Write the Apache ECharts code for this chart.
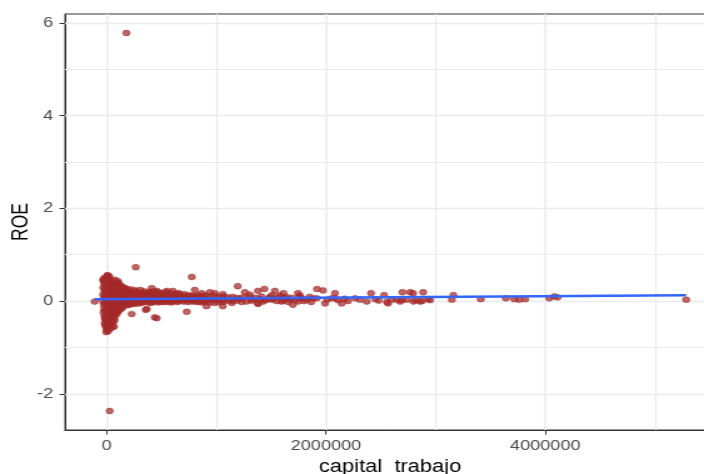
<!DOCTYPE html>
<html>
<head>
<meta charset="utf-8">
<script src="https://cdn.jsdelivr.net/npm/echarts@6/dist/echarts.min.js"></script>
<style>
  html, body { margin: 0; padding: 0; background: #ffffff; overflow: hidden; }
  /* the plot is drawn narrower and widened horizontally, like the exported figure */
  #chart { width: 563px; height: 474px; transform: scaleX(1.2504); transform-origin: 0 0; }
</style>
</head>
<body>
<div id="chart"></div>
<script>
// ROE frente a capital de trabajo, por empresa: [capital_trabajo, ROE]
const nucleoCero = [
  [-110000, -0.01],
  [-22000, 0.50], [6000, 0.56], [24000, 0.53], [9000, 0.55], [-34000, 0.46],
  [-27000, 0.43], [-2000, 0.49], [31000, 0.46],
  [-24000, 0.37], [9000, 0.41], [36000, 0.39],
  [-31000, 0.29], [-6000, 0.33], [21000, 0.31],
  [-21000, 0.22], [3000, 0.24], [29000, 0.23],
  [-33000, 0.14], [-9000, 0.16], [16000, 0.15], [39000, 0.13],
  [-24000, 0.07], [1000, 0.08], [27000, 0.06],
  [-34000, -0.01], [-7000, 0.01], [19000, 0.00], [44000, -0.01],
  [-27000, -0.08], [2000, -0.07], [31000, -0.09],
  [-23000, -0.16], [7000, -0.15], [33000, -0.17],
  [-29000, -0.24], [-3000, -0.23], [23000, -0.25],
  [-21000, -0.32], [9000, -0.31], [34000, -0.33],
  [-17000, -0.40], [1000, -0.39], [27000, -0.41],
  [-19000, -0.48], [11000, -0.47], [36000, -0.49],
  [-9000, -0.55], [6000, -0.57], [19000, -0.53],
  [-1000, -0.62], [29000, -0.60], [-4000, -0.67], [13000, -0.65],
  [-14000, 0.45], [-15000, 0.27], [-13000, 0.10], [-14000, -0.04], [-12000, -0.20], [-15000, -0.36], [-13000, -0.51],
  [17000, 0.43], [16000, 0.27], [18000, 0.11], [17000, -0.05], [15000, -0.21], [18000, -0.37], [16000, -0.46],
  [44000, 0.35], [46000, 0.20], [43000, 0.05], [45000, -0.13], [44000, -0.29], [46000, -0.44],
  [55000, -0.56], [67000, -0.55], [73000, -0.41],
  [58000, 0.42], [62000, 0.34], [57000, 0.26], [63000, 0.18], [59000, 0.10], [61000, 0.02],
  [56000, -0.06], [64000, -0.14], [58000, -0.22], [62000, -0.30], [57000, -0.38], [60000, -0.45],
  [74000, 0.46], [76000, 0.38], [73000, 0.30], [75000, 0.22], [74000, 0.14], [76000, 0.06],
  [73000, -0.02], [75000, -0.10], [74000, -0.18], [76000, -0.26], [73000, -0.34],
  [88000, 0.40], [92000, 0.32], [87000, 0.24], [93000, 0.16], [89000, 0.08], [91000, 0.00],
  [86000, -0.08], [94000, -0.16], [88000, -0.24], [92000, -0.28],
  [103000, 0.43],
  [105000, 0.39], [106000, 0.31], [104000, 0.23], [107000, 0.15], [105000, 0.07], [104000, -0.01],
  [106000, -0.09], [105000, -0.17], [107000, -0.22],
  [118000, 0.35], [122000, 0.27], [117000, 0.19], [123000, 0.11], [119000, 0.03],
  [121000, -0.05], [116000, -0.12], [124000, -0.18],
  [134000, 0.32], [136000, 0.24], [133000, 0.16], [135000, 0.08], [134000, 0.00], [136000, -0.07], [133000, -0.15],
  [148000, 0.30], [152000, 0.22], [147000, 0.14], [153000, 0.06], [149000, -0.02],
  [151000, -0.09], [146000, -0.14],
  [167000, 0.28], [169000, 0.21], [166000, 0.13], [170000, 0.05], [168000, -0.03], [167000, -0.08]
];

const tramoBajo = [
  [185000, 0.26], [191000, 0.18], [182000, 0.11], [188000, 0.03], [184000, -0.04], [190000, -0.09],
  [206000, 0.22], [208000, 0.14], [205000, 0.06], [207000, -0.02], [206000, -0.07],
  [226000, 0.25], [231000, 0.16], [221000, 0.09], [228000, 0.02], [223000, -0.07],
  [245000, 0.20], [247000, 0.12], [244000, 0.04], [246000, -0.04],
  [264000, 0.23], [270000, 0.15], [259000, 0.08], [267000, 0.01], [262000, -0.06],
  [285000, 0.19], [287000, 0.11], [284000, 0.03], [286000, -0.04],
  [306000, 0.24], [309000, 0.14], [300000, 0.07], [307000, -0.01], [302000, -0.05],
  [325000, 0.18], [327000, 0.10], [324000, 0.02], [326000, -0.03],
  [344000, 0.21], [349000, 0.13], [341000, 0.06], [347000, -0.02],
  [365000, 0.17], [367000, 0.09], [364000, 0.01],
  [386000, 0.20], [390000, 0.12], [381000, 0.05], [384000, -0.03],
  [405000, 0.17], [407000, 0.09], [404000, 0.01], [406000, -0.04],
  [424000, 0.21], [431000, 0.12], [420000, 0.04], [427000, -0.02],
  [445000, 0.16], [447000, 0.08], [444000, 0.00],
  [466000, 0.19], [470000, 0.11], [461000, 0.05], [468000, -0.03],
  [485000, 0.15], [487000, 0.07], [484000, -0.01],
  [503000, 0.18], [510000, 0.10], [500000, 0.03], [507000, -0.02],
  [525000, 0.15], [527000, 0.07], [524000, -0.01],
  [547000, 0.19], [551000, 0.10], [541000, 0.04], [545000, -0.02],
  [565000, 0.14], [567000, 0.06], [564000, 0.00],
  [584000, 0.17], [590000, 0.09], [580000, 0.02], [587000, -0.03],
  [605000, 0.13], [607000, 0.05], [604000, -0.01],
  [626000, 0.16], [631000, 0.08], [620000, 0.01],
  [645000, 0.12], [647000, 0.04], [644000, -0.02],
  [664000, 0.15], [670000, 0.07], [660000, 0.00],
  [685000, 0.11], [687000, 0.03],
  [707000, 0.15], [711000, 0.06], [700000, -0.01],
  [725000, 0.10], [727000, 0.02],
  [744000, 0.13], [750000, 0.05], [741000, -0.02],
  [765000, 0.10], [767000, 0.02],
  [786000, 0.12], [790000, 0.06], [781000, -0.01],
  [805000, 0.09], [807000, 0.01],
  [826000, 0.13], [829000, 0.04], [820000, -0.02],
  [845000, 0.08], [847000, 0.00],
  [863000, 0.11], [870000, 0.04], [861000, -0.03],
  [885000, 0.08], [887000, 0.00],
  [906000, 0.12], [910000, 0.03], [899000, -0.02],
  [944000, 0.10], [951000, 0.03], [940000, -0.03],
  [987000, 0.11], [990000, 0.02], [980000, -0.04],
  [1024000, 0.09], [1030000, 0.02], [1020000, -0.03],
  [1066000, 0.10], [1071000, 0.01], [1060000, -0.02],
  [1104000, 0.08], [1110000, 0.01],
  [1146000, 0.09], [1150000, 0.00], [1141000, -0.04],
  [1186000, 0.07], [1190000, 0.01]
];

const tramoMedio = [
  [1215000, 0.05], [1240000, 0.08], [1276000, -0.01], [1300000, 0.09], [1306000, 0.14],
  [1320000, 0.01], [1336000, 0.03], [1355000, 0.07], [1382000, -0.05], [1400000, 0.04],
  [1410000, 0.10], [1427000, -0.01], [1450000, 0.02], [1473000, 0.06], [1490000, 0.09],
  [1504000, 0.03], [1507000, 0.13], [1520000, 0.05], [1550000, 0.00], [1570000, 0.08],
  [1580000, 0.12], [1595000, -0.01], [1610000, 0.01], [1625000, 0.06], [1640000, 0.09],
  [1655000, -0.02], [1671000, 0.03], [1690000, 0.07], [1720000, 0.02], [1747000, -0.01],
  [1760000, 0.08], [1762000, 0.12], [1778000, 0.06], [1800000, 0.00], [1824000, 0.03],
  [1850000, 0.09], [1865000, -0.02], [1884000, 0.06], [1917000, 0.06]
];

const tramoAlto = [
  [1918000, 0.26], [1972000, 0.23], [1991000, -0.05], [2010000, 0.03], [2050000, 0.06],
  [2082000, 0.17], [2085000, 0.06], [2110000, 0.02], [2143000, -0.05], [2170000, 0.05],
  [2200000, 0.00], [2265000, 0.06], [2310000, 0.03], [2372000, -0.01], [2411000, 0.17],
  [2450000, 0.04], [2480000, 0.01], [2530000, 0.13], [2556000, -0.02], [2566000, -0.05],
  [2600000, 0.03], [2645000, 0.03], [2676000, -0.01], [2693000, 0.02], [2697000, 0.19],
  [2740000, 0.03], [2767000, 0.19], [2794000, 0.17], [2797000, -0.01], [2820000, 0.02],
  [2858000, -0.01], [2876000, 0.00], [2886000, 0.19], [2931000, 0.04], [2949000, 0.02],
  [3148000, 0.03], [3162000, 0.13], [3412000, 0.04], [3641000, 0.06], [3717000, 0.04],
  [3762000, 0.03], [3817000, 0.04], [4036000, 0.06], [4082000, 0.10], [4112000, 0.08],
  [5285000, 0.03]
];

const sueltos = [
  [180000, 5.78], [27000, -2.37],
  [265000, 0.73], [776000, 0.52], [411000, 0.28], [228000, -0.28], [365000, -0.17],
  [356000, -0.19], [438000, -0.35], [456000, -0.37], [730000, -0.23], [803000, 0.24],
  [910000, -0.11], [457000, 0.22], [548000, 0.22], [603000, 0.22], [657000, 0.17],
  [867000, 0.17], [940000, 0.19], [986000, 0.17], [1059000, 0.15], [1059000, -0.11],
  [1195000, 0.32], [1260000, 0.19], [1379000, 0.22], [1438000, 0.26], [1534000, 0.22],
  [1612000, 0.17], [1744000, 0.17], [1698000, -0.08], [1379000, -0.06], [1232000, -0.02]
];

// recta de regresión lineal (extremos del ajuste)
const ajusteX = [-110000, 5285000];
const ajusteY = [0.04, 0.127];

// escalas y marcas de los ejes
const xMin = -380000, xMax = 5550000;
const yMin = -2.78, yMax = 6.19;
const xTicks = [0, 2000000, 4000000];
const xMinor = [1000000, 3000000, 5000000];
const yTicks = [-2, 0, 2, 4, 6];
const yMinor = [-1, 1, 3, 5];

const font = 'Liberation Sans, Arial, sans-serif';
const gridColor = '#EBEBEB';

const puntos = [].concat(nucleoCero, tramoBajo, tramoMedio, tramoAlto, sueltos);
const ajuste = ajusteX.map((x, i) => [x, ajusteY[i]]);

const gridLines = [].concat(
  xTicks.map(v => ({ xAxis: v, lineStyle: { color: gridColor, width: 1.5, type: 'solid' } })),
  xMinor.map(v => ({ xAxis: v, lineStyle: { color: gridColor, width: 1.2, type: 'solid' } })),
  yTicks.map(v => ({ yAxis: v, lineStyle: { color: gridColor, width: 1.3, type: 'solid' } })),
  yMinor.map(v => ({ yAxis: v, lineStyle: { color: gridColor, width: 1.1, type: 'solid' } }))
);

const chart = echarts.init(document.getElementById('chart'), null, { renderer: 'canvas' });
chart.setOption({
  animation: false,
  backgroundColor: '#ffffff',
  grid: {
    left: 52, right: -9, top: 14, bottom: 44,
    outerBoundsMode: 'none', containLabel: false,
    show: true, borderColor: '#333333', borderWidth: 1, backgroundColor: '#ffffff'
  },
  xAxis: {
    type: 'value', min: xMin, max: xMax,
    name: 'capital_trabajo', nameLocation: 'middle', nameGap: 28, nameMoveOverlap: false,
    nameTextStyle: { fontFamily: font, fontSize: 17.5, color: '#000000' },
    axisLine: { show: true, onZero: false, lineStyle: { color: '#333333', width: 1 } },
    axisTick: { show: true, length: 4.5, customValues: xTicks, lineStyle: { color: '#333333', width: 1 } },
    axisLabel: { customValues: xTicks, margin: 8, color: '#4D4D4D', fontSize: 14.5, fontFamily: font,
      formatter: v => String(v) },
    splitLine: { show: false }
  },
  yAxis: {
    type: 'value', min: yMin, max: yMax,
    name: 'ROE', nameLocation: 'middle', nameGap: 26, nameMoveOverlap: false,
    nameTextStyle: { fontFamily: font, fontSize: 17.5, color: '#000000' },
    axisLine: { show: true, onZero: false, lineStyle: { color: '#333333', width: 1 } },
    axisTick: { show: true, length: 4.5, customValues: yTicks, lineStyle: { color: '#333333', width: 1 } },
    axisLabel: { customValues: yTicks, margin: 9.5, color: '#4D4D4D', fontSize: 14.5, fontFamily: font,
      formatter: v => String(v) },
    splitLine: { show: false }
  },
  series: [
    {
      type: 'line', data: [], silent: true, z: 1,
      markLine: { silent: true, z: 1, symbol: ['none', 'none'], label: { show: false },
        emphasis: { disabled: true }, animation: false, data: gridLines }
    },
    {
      type: 'scatter', data: puntos, z: 2, silent: true,
      symbol: 'circle', symbolSize: 5.8,
      itemStyle: { color: '#A52A2A', opacity: 0.72, borderColor: '#A52A2A', borderWidth: 0.7 }
    },
    {
      type: 'line', data: ajuste, z: 3, silent: true,
      symbol: 'none', lineStyle: { color: '#3366FF', width: 2.5 }
    }
  ]
});
</script>
</body>
</html>
